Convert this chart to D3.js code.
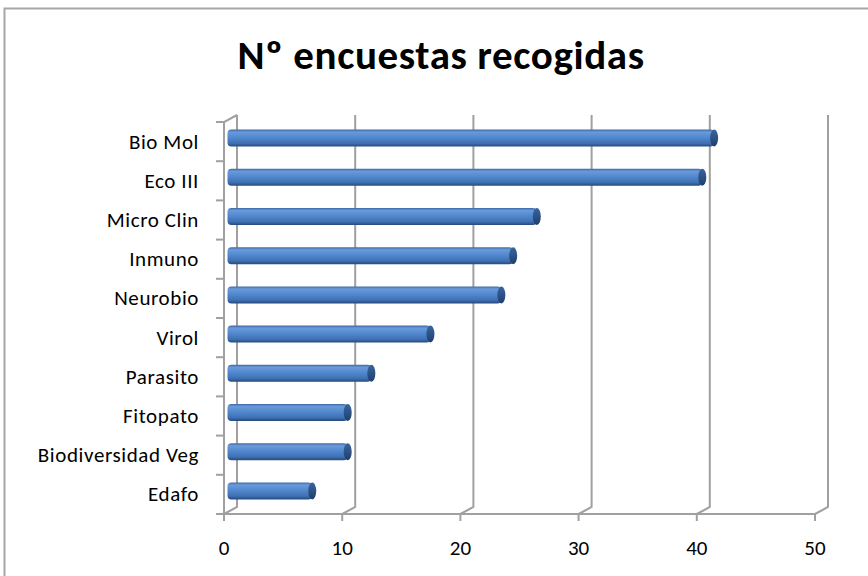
<!DOCTYPE html>
<html>
<head>
<meta charset="utf-8">
<script src="https://cdn.jsdelivr.net/npm/d3@7"></script>
<style>
  body { margin: 0; background: #fff; }
  svg { display: block; }
</style>
</head>
<body>
<svg id="chart" width="868" height="576"></svg>
<script>
const categories = ["Bio Mol", "Eco III", "Micro Clin", "Inmuno", "Neurobio", "Virol", "Parasito", "Fitopato", "Biodiversidad Veg", "Edafo"];
const values = [41, 40, 26, 24, 23, 17, 12, 10, 10, 7];
const xTicks = [0, 10, 20, 30, 40, 50];
const title = "Nº encuestas recogidas";

const svg = d3.select("#chart");
const font = "Carlito, Lato, 'Open Sans', sans-serif";

// 3D depth offset (front plane -> back wall)
const dx = 13, dy = -7;
const floorY = 514;

const x = d3.scaleLinear().domain([0, 50]).range([224, 815]);
const y = d3.scaleBand().domain(categories).range([floorY - 392, floorY]).paddingInner(0.58).paddingOuter(0.29);
const step = y.step();
const bandTop = floorY - 392;

// gradient for the cylinders
const defs = svg.append("defs");
const grad = defs.append("linearGradient").attr("id", "barGrad")
    .attr("x1", 0).attr("y1", 0).attr("x2", 0).attr("y2", 1);
grad.append("stop").attr("offset", "0%").attr("stop-color", "#3d6aa8");
grad.append("stop").attr("offset", "15%").attr("stop-color", "#6a9ada");
grad.append("stop").attr("offset", "45%").attr("stop-color", "#5289cf");
grad.append("stop").attr("offset", "80%").attr("stop-color", "#3f71b3");
grad.append("stop").attr("offset", "100%").attr("stop-color", "#254a7c");
const capGrad = defs.append("linearGradient").attr("id", "capGrad")
    .attr("x1", 0).attr("y1", 0).attr("x2", 0).attr("y2", 1);
capGrad.append("stop").attr("offset", "0%").attr("stop-color", "#3a65a0");
capGrad.append("stop").attr("offset", "100%").attr("stop-color", "#1f3f6c");

// chart border
svg.append("rect")
    .attr("x", 4.5).attr("y", 8.5)
    .attr("width", 900).attr("height", 600)
    .attr("fill", "none")
    .attr("stroke", "#a6a6a6")
    .attr("stroke-width", 2);

// title
svg.append("text")
    .attr("x", 441).attr("y", 69)
    .attr("text-anchor", "middle")
    .attr("font-family", font)
    .attr("font-weight", "bold")
    .attr("font-size", 41)
    .attr("letter-spacing", 0.6)
    .attr("fill", "#000")
    .text(title);

const grid = "#a0a0a0";

// back wall gridlines with the floor diagonal
svg.append("g").selectAll("path")
    .data(xTicks)
    .enter()
    .append("path")
    .attr("d", t => `M${x(t) + dx},${bandTop + dy} L${x(t) + dx},${floorY + dy} L${x(t)},${floorY}`)
    .attr("fill", "none")
    .attr("stroke", grid)
    .attr("stroke-width", 2);

// front x axis
svg.append("line")
    .attr("x1", x(0)).attr("x2", x(50))
    .attr("y1", floorY).attr("y2", floorY)
    .attr("stroke", grid).attr("stroke-width", 2);
svg.append("g").selectAll("line")
    .data(xTicks)
    .enter()
    .append("line")
    .attr("x1", d => x(d)).attr("x2", d => x(d))
    .attr("y1", floorY).attr("y2", floorY + 7)
    .attr("stroke", grid).attr("stroke-width", 2);

// left axis
svg.append("path")
    .attr("d", `M${x(0) + dx},${bandTop + dy} L${x(0)},${bandTop} L${x(0)},${floorY}`)
    .attr("fill", "none")
    .attr("stroke", grid).attr("stroke-width", 2);
svg.append("g").selectAll("line")
    .data(d3.range(categories.length + 1))
    .enter()
    .append("line")
    .attr("x1", x(0) - 8).attr("x2", x(0))
    .attr("y1", i => bandTop + i * step).attr("y2", i => bandTop + i * step)
    .attr("stroke", grid).attr("stroke-width", 2);

// x tick labels
svg.append("g").selectAll("text")
    .data(xTicks)
    .enter()
    .append("text")
    .attr("x", d => x(d))
    .attr("y", 555)
    .attr("text-anchor", "middle")
    .attr("font-family", font)
    .attr("font-size", 21)
    .attr("fill", "#000")
    .text(d => d);

// category labels
svg.append("g").selectAll("text")
    .data(categories)
    .enter()
    .append("text")
    .attr("x", 199)
    .attr("y", d => y(d) + y.bandwidth() / 2 + 7)
    .attr("text-anchor", "end")
    .attr("font-family", font)
    .attr("font-size", 21)
    .attr("letter-spacing", 0.6)
    .attr("fill", "#000")
    .text(d => d);

// bars as cylinders at mid depth
const bh = 17;
const ox = dx / 2, oy = dy / 2;
const bars = svg.append("g").selectAll("g")
    .data(categories.map((c, i) => ({ cat: c, val: values[i] })))
    .enter()
    .append("g")
    .attr("transform", d => `translate(0, ${y(d.cat) + y.bandwidth() / 2 + oy - bh / 2})`);

bars.append("rect")
    .attr("x", x(0) + ox - 3)
    .attr("y", 0)
    .attr("width", d => x(d.val) - x(0) + 2)
    .attr("height", bh)
    .attr("rx", 4)
    .attr("fill", "url(#barGrad)");

bars.append("ellipse")
    .attr("cx", d => x(d.val) + ox - 1)
    .attr("cy", bh / 2)
    .attr("rx", 4)
    .attr("ry", bh / 2)
    .attr("fill", "url(#capGrad)");
</script>
</body>
</html>
